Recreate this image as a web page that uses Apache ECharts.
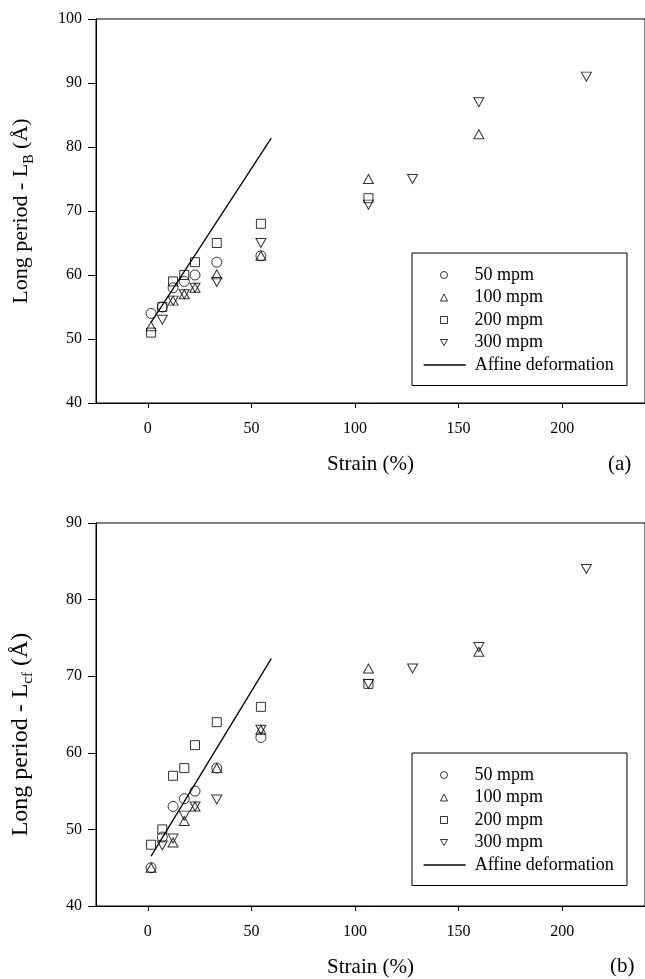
<!DOCTYPE html>
<html>
<head>
<meta charset="utf-8">
<script src="https://cdn.jsdelivr.net/npm/echarts@6/dist/echarts.min.js"></script>
<style>
  html, body { margin: 0; padding: 0; background: #fff; }
  #chart { width: 645px; height: 979px; }
</style>
</head>
<body>
<div id="chart"></div>
<script>
// Strain positions of the measured columns, in x-axis units
const strain = [1.6, 7.0, 12.2, 17.6, 22.8, 33.3, 54.6, 106.5, 127.8, 159.8, 211.7];
const xTicks = [0, 50, 100, 150, 200];

const seriesNames = ['50 mpm', '100 mpm', '200 mpm', '300 mpm'];
const affineName = 'Affine deformation';

// Panel (a): long period L_B (Å)
const lb50 = [54, 55, 58, 59, 60, 62, 63, null, null, null, null];
const lb100 = [52, null, 56, 57, 58, 60.1, 63, 75, null, 82, null];
const lb200 = [51, 55, 59, 60, 62, 65, 68, 72, null, null, null];
const lb300 = [null, 53, 56, 57, 58, 58.9, 65, 71, 75, 87, 91];
const lbAffineX = [1.6, 59.6];
const lbAffineY = [52.6, 81.4];

// Panel (b): long period L_cf (Å)
const lcf50 = [45, 49, 53, 54, 55, 58, 62, null, null, null, null];
const lcf100 = [45, null, 48.3, 51.1, 53, 58, 63, 71, null, 73.2, null];
const lcf200 = [48, 50, 57, 58, 61, 64, 66, 69, null, null, null];
const lcf300 = [null, 47.9, 48.8, 51.8, 53, 53.9, 63, 69, 71, 73.8, 84];
const lcfAffineX = [1.6, 59.6];
const lcfAffineY = [46.5, 72.3];

const FONT = "'Liberation Serif', 'Times New Roman', serif";
const symbols = [
  { symbol: 'circle', size: 10 },
  { symbol: 'triangle', size: [10, 9] },
  { symbol: 'rect', size: 9 },
  { symbol: 'path://M0,0L10,0L5,8.66Z', size: [10, 9] }
];

function pairs(xs, ys) {
  const out = [];
  ys.forEach((y, i) => { if (y !== null) out.push([xs[i], y]); });
  return out;
}

function scatterSeries(values, k, gridIdx) {
  return {
    name: seriesNames[k],
    type: 'scatter',
    xAxisIndex: gridIdx,
    yAxisIndex: gridIdx,
    symbol: symbols[k].symbol,
    symbolSize: symbols[k].size,
    itemStyle: { color: 'rgba(255,255,255,0)', borderColor: '#000', borderWidth: 1 },
    emphasis: { disabled: true },
    data: pairs(strain, values),
    z: 3
  };
}

function affineSeries(xs, ys, gridIdx) {
  return {
    name: affineName,
    type: 'line',
    xAxisIndex: gridIdx,
    yAxisIndex: gridIdx,
    symbol: 'none',
    showSymbol: false,
    lineStyle: { color: '#000', width: 1.3 },
    itemStyle: { color: '#000' },
    emphasis: { disabled: true },
    data: pairs(xs, ys),
    z: 2
  };
}

function xAxisCfg(gridIdx) {
  return {
    type: 'value',
    gridIndex: gridIdx,
    min: -25,
    max: 240,
    name: 'Strain (%)',
    nameLocation: 'middle',
    nameGap: 51,
    nameTextStyle: { fontFamily: FONT, fontSize: 21, color: '#000' },
    axisLine: { show: true, onZero: false, lineStyle: { color: '#000', width: 1 } },
    axisTick: { show: true, inside: false, length: 5, customValues: xTicks, lineStyle: { color: '#000' } },
    axisLabel: { customValues: xTicks, margin: 18, fontFamily: FONT, fontSize: 16, color: '#000' },
    splitLine: { show: false }
  };
}

function yAxisCfg(gridIdx, min, max, sub, fontSize, shift) {
  return {
    type: 'value',
    gridIndex: gridIdx,
    min: min,
    max: max,
    interval: 10,
    name: 'Long period - L{sub|' + sub + '} (Å)',
    nameLocation: 'middle',
    nameRotate: 90,
    nameGap: 60,
    nameTextStyle: {
      fontFamily: FONT, fontSize: fontSize, color: '#000',
      padding: [0, shift, 0, 0],
      rich: { sub: { fontFamily: FONT, fontSize: Math.round(fontSize * 0.62), color: '#000', verticalAlign: 'bottom', padding: [15, 0, 0, 0] } }
    },
    axisLine: { show: true, onZero: false, lineStyle: { color: '#000', width: 1 } },
    axisTick: { show: true, inside: false, length: 8, lineStyle: { color: '#000' } },
    axisLabel: { margin: 14, fontFamily: FONT, fontSize: 16, color: '#000' },
    splitLine: { show: false }
  };
}

// Framed legend holding the four marker entries
function markerLegend(top) {
  return {
    orient: 'vertical',
    left: 412,
    top: top,
    data: seriesNames.slice(),
    selectedMode: false,
    itemWidth: 7,
    itemHeight: 7,
    itemGap: 4.5,
    padding: [13, 84, 34, 28],
    backgroundColor: '#fff',
    borderColor: '#000',
    borderWidth: 1,
    borderRadius: 0,
    itemStyle: { borderWidth: 1 },
    textStyle: { fontFamily: FONT, fontSize: 18, lineHeight: 18, color: '#000', padding: [0, 0, 0, 22] },
    z: 10
  };
}

// Line entry placed inside the same frame, under the markers
function lineLegend(top) {
  return {
    orient: 'vertical',
    left: 423,
    top: top,
    data: [{
      name: affineName,
      itemStyle: { color: 'rgba(0,0,0,0)', borderColor: 'rgba(0,0,0,0)', borderWidth: 0 }
    }],
    selectedMode: false,
    itemWidth: 42,
    itemHeight: 2,
    padding: 0,
    backgroundColor: 'transparent',
    borderWidth: 0,
    lineStyle: { color: '#000', width: 1.3 },
    textStyle: { fontFamily: FONT, fontSize: 18, lineHeight: 18, color: '#000', padding: [0, 0, 0, 4] },
    z: 11
  };
}

const chart = echarts.init(document.getElementById('chart'), null, { renderer: 'canvas' });
chart.setOption({
  animation: false,
  backgroundColor: '#fff',
  grid: [
    { left: 96, top: 19, width: 553, height: 384, show: true, borderColor: '#000', borderWidth: 1, backgroundColor: 'transparent' },
    { left: 96, top: 523, width: 553, height: 384, show: true, borderColor: '#000', borderWidth: 1, backgroundColor: 'transparent' }
  ],
  xAxis: [xAxisCfg(0), xAxisCfg(1)],
  yAxis: [yAxisCfg(0, 40, 100, 'B', 22, 0), yAxisCfg(1, 40, 90, 'cf', 24, 40)],
  legend: [markerLegend(253), lineLegend(356), markerLegend(753), lineLegend(856)],
  graphic: [
    { type: 'text', left: 608, top: 454, style: { text: '(a)', fontFamily: FONT, fontSize: 21, fill: '#000' } },
    { type: 'text', left: 610, top: 956, style: { text: '(b)', fontFamily: FONT, fontSize: 21, fill: '#000' } }
  ],
  series: [
    scatterSeries(lb50, 0, 0),
    scatterSeries(lb100, 1, 0),
    scatterSeries(lb200, 2, 0),
    scatterSeries(lb300, 3, 0),
    affineSeries(lbAffineX, lbAffineY, 0),
    scatterSeries(lcf50, 0, 1),
    scatterSeries(lcf100, 1, 1),
    scatterSeries(lcf200, 2, 1),
    scatterSeries(lcf300, 3, 1),
    affineSeries(lcfAffineX, lcfAffineY, 1)
  ]
});
</script>
</body>
</html>
